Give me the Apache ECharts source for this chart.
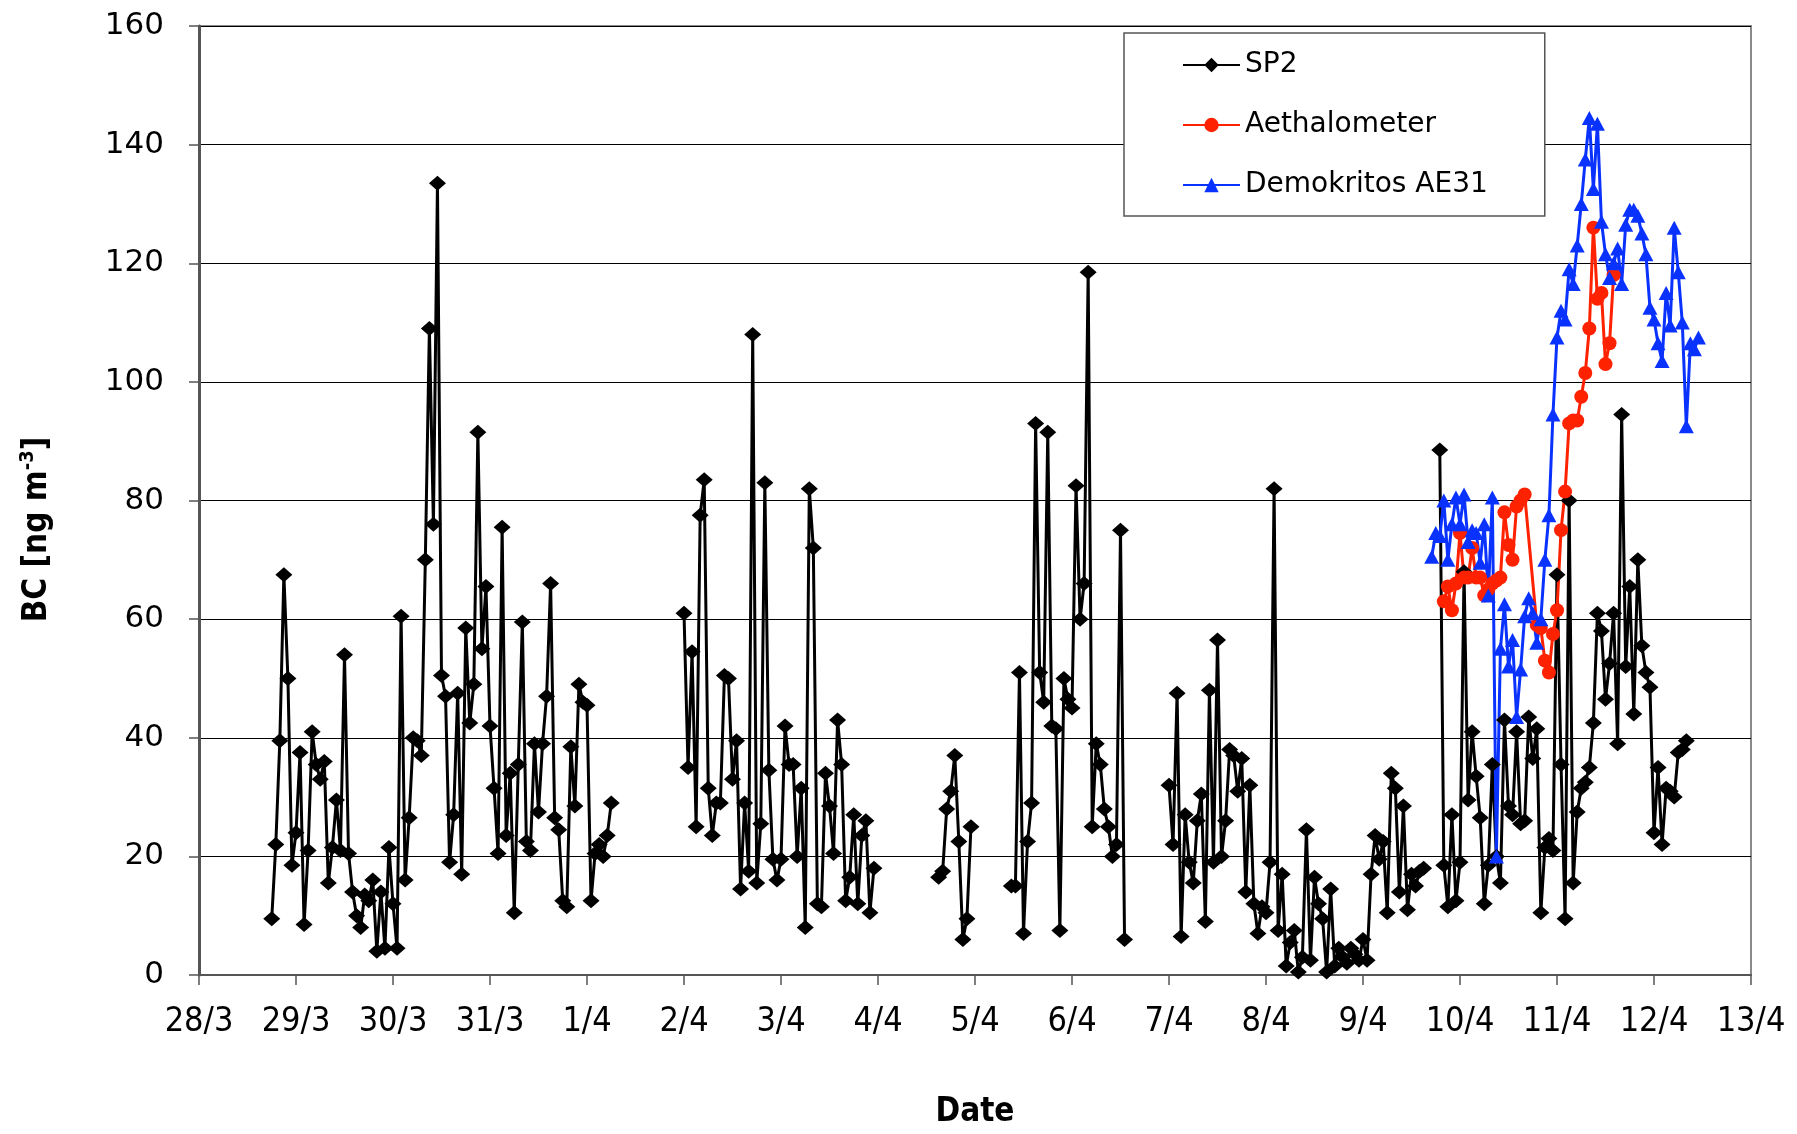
<!DOCTYPE html>
<html>
<head>
<meta charset="utf-8">
<title>BC</title>
<style>
    html, body { margin: 0; padding: 0; background: #fff; }
    #chart { width: 1797px; height: 1134px; }
</style>
</head>
<body>
<div id="chart"></div>
<script src="https://cdn.jsdelivr.net/npm/echarts@6/dist/echarts.min.js"></script>
<script type="text/javascript">
    // x = hours since 28/3 00:00, hourly data
    var dayLabels = ['28/3','29/3','30/3','31/3','1/4','2/4','3/4','4/4','5/4','6/4','7/4','8/4','9/4','10/4','11/4','12/4','13/4'];

    // SP2 runs (start hour + hourly values)
    var sp2StartA = 18;
    var sp2RunA = [9.5,22,39.5,67.5,50,18.5,24,37.5,8.5,21,41,35.5,33,36,15.5,21.5,29.5,21,54,20.5,
        14,10,8,13.5,12.5,16,4,14,4.5,21.5,12,4.5,60.5,16,26.5,40,39.5,37,70,109,
        76,133.5,50.5,47,19,27,47.5,17,58.5,42.5,49,91.5,55,65.5,42,31.5,20.5,75.5,23.5,34,
        10.5,35.5,59.5,22.5,21,39,27.5,39,47,66,26.5,24.5,12.5,11.5,38.5,28.5,49,46,45.5,12.5,
        20.5,22,20,23.5,29];
    var sp2StartB = 120;
    var sp2RunB = [61,35,54.5,25,77.5,83.5,31.5,23.5,29,29,50.5,50,33,39.5,14.5,29,17.5,108,15.5,25.5,
        83,34.5,19.5,16,19.5,42,35.5,35.5,20,31.5,8,82,72,12,11.5,34,28.5,20.5,43,35.5,
        12.5,16.5,27,12,23.5,26,10.5,18];
    var sp2StartC = 183;
    var sp2RunC = [16.5,17.5,28,31,37,22.5,6,9.5,25];
    var sp2StartD = 201;
    var sp2RunD = [15,15,51,7,22.5,29,93,51,46,91.5,42,41.5,7.5,50,46.5,45,82.5,60,66,118.5,
        25,39,35.5,28,25,20,22,75,6];
    var sp2StartE = 240;
    var sp2RunE = [32,22,47.5,6.5,27,19,15.5,26,30.5,9,48,19,56.5,20,26,38,37,31,36.5,14,
        32,12,7,11.5,10.5,19,82,7.5,17,1.5,5.5,7.5,0.5,3,24.5,2.5,16.5,12,9.5,0.5,
        14.5,1.5,4.5,3,2,4.5,3.5,2.5,6,2.5,17,23.5,19.5,22.5,10.5,34,31.5,14,28.5,11,
        17,15,17.5,18];
    var sp2StartF = 307;
    var sp2RunF = [88.5,18.5,11.5,27,12.5,19,68,29.5,41,33.5,26.5,12,18.5,35.5,20,15.5,43,28.5,27,41,
        25.5,26,43.5,36.5,41.5,10.5,21.5,23,21,67.5,35.5,9.5,80,15.5,27.5,31.5,32.5,35,42.5,61,
        58,46.5,52.5,61,39,94.5,52,65.5,44,70,55.5,51,48.5,24,35,22,31.5,31,30,37.5,
        38,39.5];

    // Aethalometer
    var aethStartA = 308;
    var aethRunA = [63,65.5,61.5,66,74.5,67,67,72,67,67,64,65,66,66.5,67,78,72.5,70,79,80,81];
    var aethStartB = 331;
    var aethRunB = [59,58.5,53,51,57.5,61.5,75,81.5,93,93.5,93.5,97.5,101.5,109,126,114,115,103,106.5,118];

    // Demokritos AE31
    var demoStart = 305;
    var demoRun = [70.5,74.5,74,80,70,76,80.5,76,81,73,75,74.5,69.5,76,64,80.5,20,55,62.5,52,
        56.5,43.5,51.5,60.5,63.5,61,56,60,70,77.5,94.5,107.5,112,110.5,119,116.5,123,130,137.5,144.5,
        132.5,143.5,127,121.5,117.5,120,122.5,116.5,126.5,129,129,128,125,121.5,112.5,110.5,106.5,103.5,115,109.5,
        126,118.5,110,92.5,106.5,105.5,107.5];

    function toPoints(runs) {
        var out = [];
        runs.forEach(function (r, k) {
            if (k > 0 && r.gap) out.push([r.start - 1, null]);
            r.values.forEach(function (v, i) { out.push([r.start + i, v]); });
        });
        return out;
    }

    var sp2Data = toPoints([
        {start: sp2StartA, values: sp2RunA},
        {start: sp2StartB, values: sp2RunB, gap: true},
        {start: sp2StartC, values: sp2RunC, gap: true},
        {start: sp2StartD, values: sp2RunD, gap: true},
        {start: sp2StartE, values: sp2RunE, gap: true},
        {start: sp2StartF, values: sp2RunF, gap: true}
    ]);
    var aethData = toPoints([
        {start: aethStartA, values: aethRunA},
        {start: aethStartB, values: aethRunB}
    ]);
    var demoData = toPoints([{start: demoStart, values: demoRun}]);

    var narrow = "'Liberation Sans Narrow', 'DejaVu Sans Condensed', sans-serif";
    var wide = "'DejaVu Sans', Verdana, sans-serif";

    var chart = echarts.init(document.getElementById('chart'));
    chart.setOption({
        animation: false,
        backgroundColor: '#fff',
        grid: {
            left: 199, right: 46, top: 26, bottom: 152,
            show: true, borderColor: '#8a8a8a', borderWidth: 2
        },
        legend: {
            orient: 'vertical',
            left: 1124, top: 33,
            padding: [17, 57, 16, 58],
            backgroundColor: '#fff',
            borderColor: '#555',
            borderWidth: 1.5,
            itemWidth: 57, itemHeight: 18, itemGap: 30,
            textStyle: {fontFamily: wide, fontSize: 28, color: '#000', lineHeight: 30},
            data: ['SP2', 'Aethalometer', 'Demokritos AE31']
        },
        xAxis: {
            type: 'value',
            min: 0, max: 384, interval: 24,
            name: 'Date',
            nameLocation: 'middle',
            nameGap: 121,
            nameTextStyle: {fontFamily: narrow, fontWeight: 'bold', fontSize: 33, color: '#000'},
            axisLine: {lineStyle: {color: '#555', width: 2}},
            axisTick: {show: true, length: 10, lineStyle: {color: '#555', width: 1.5}},
            axisLabel: {
                margin: 30,
                fontFamily: narrow, fontSize: 34, color: '#000',
                formatter: function (v) { return dayLabels[Math.round(v / 24)]; }
            },
            splitLine: {show: false}
        },
        yAxis: {
            type: 'value',
            min: 0, max: 160, interval: 20,
            name: '{a|BC [ng m}{b|-3}{a|]}',
            nameLocation: 'middle',
            nameRotate: 90,
            nameGap: 143,
            nameTextStyle: {
                padding: [0, 58, 0, 0],
                rich: {
                    a: {fontFamily: narrow, fontWeight: 'bold', fontSize: 33, color: '#000', lineHeight: 38},
                    b: {fontFamily: narrow, fontWeight: 'bold', fontSize: 20, color: '#000', verticalAlign: 'top', lineHeight: 38}
                }
            },
            axisLine: {show: true, lineStyle: {color: '#555', width: 3}},
            axisTick: {show: true, length: 10, lineStyle: {color: '#555', width: 1.5}},
            axisLabel: {margin: 35, fontFamily: wide, fontSize: 31, color: '#000'},
            splitLine: {lineStyle: {color: '#000', width: 1.2}}
        },
        series: [
            {
                name: 'SP2', type: 'line', data: sp2Data,
                symbol: 'diamond', symbolSize: [17, 15],
                lineStyle: {color: '#000', width: 3},
                itemStyle: {color: '#000'},
                connectNulls: false
            },
            {
                name: 'Aethalometer', type: 'line', data: aethData,
                symbol: 'circle', symbolSize: 14,
                lineStyle: {color: '#ff2200', width: 3},
                itemStyle: {color: '#ff2200'}
            },
            {
                name: 'Demokritos AE31', type: 'line', data: demoData,
                symbol: 'triangle', symbolSize: [15, 14],
                lineStyle: {color: '#0a32ff', width: 3},
                itemStyle: {color: '#0a32ff'}
            }
        ]
    });
</script>
</body>
</html>
